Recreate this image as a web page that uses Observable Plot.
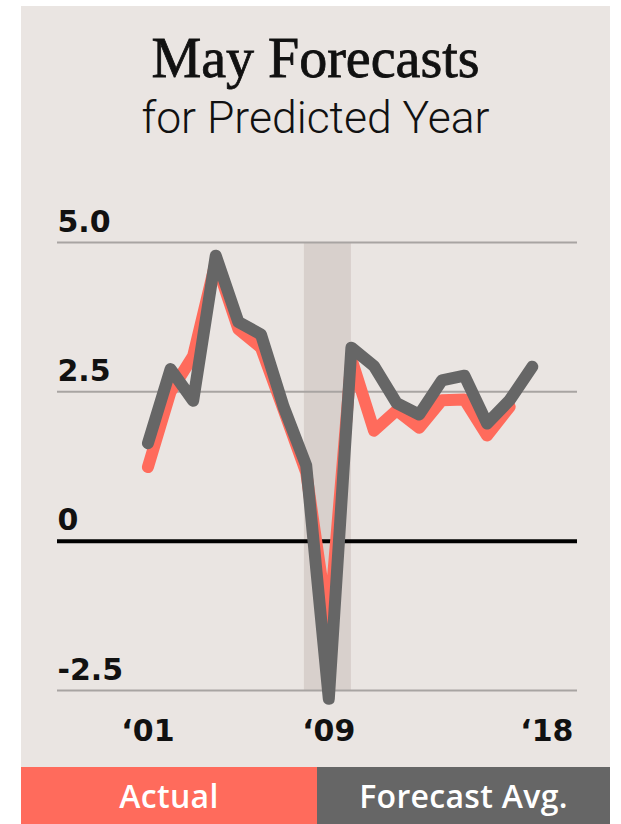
<!DOCTYPE html>
<html>
<head>
<meta charset="utf-8">
<script src="https://cdn.jsdelivr.net/npm/d3@7"></script>
<script src="https://cdn.jsdelivr.net/npm/@observablehq/plot@0.6"></script>
<style>
  html, body { margin: 0; padding: 0; background: #ffffff; }
  #page { position: relative; width: 621px; height: 824px; overflow: hidden; }
  #card { position: absolute; left: 21px; top: 6px; width: 589px; height: 818px; background: #EAE5E2; }
  #title { position: absolute; left: 21px; width: 589px; top: 30px; text-align: center;
    font-family: "Liberation Serif", serif; font-weight: 400; font-size: 56px; line-height: 56px; color: #111;
    -webkit-text-stroke: 0.8px #111; }
  #subtitle { position: absolute; left: 21px; width: 589px; top: 96px; text-align: center;
    font-family: Roboto, sans-serif; font-weight: 300; font-size: 44.5px; line-height: 44.5px; color: #111; }
  #chart { position: absolute; left: 0; top: 160px; }
  #legend { position: absolute; left: 21px; top: 767px; width: 589px; height: 57px; display: flex; }
  #legend div { display: flex; align-items: center; justify-content: center; color: #fff;
    font-family: "Open Sans", sans-serif; font-weight: 600; font-size: 32px; letter-spacing: 0.3px; }
</style>
</head>
<body>
<div id="page">
  <div id="card"></div>
  <div id="title">May Forecasts</div>
  <div id="subtitle">for Predicted Year</div>
  <div id="chart"></div>
  <div id="legend"></div>
</div>
<script>
// ---- data ----
const years = [2001, 2002, 2003, 2004, 2005, 2006, 2007, 2008, 2009, 2010, 2011, 2012, 2013, 2014, 2015, 2016, 2017, 2018];
const forecastAvg = [1.64, 2.88, 2.35, 4.78, 3.67, 3.46, 2.25, 1.27, -2.64, 3.24, 2.93, 2.31, 2.12, 2.69, 2.77, 1.97, 2.36, 2.92];
const actual = [1.24, 2.5, 3.1, 4.68, 3.55, 3.24, 2.2, 1.15, -1.45, 3.05, 1.85, 2.19, 1.9, 2.36, 2.37, 1.77, 2.25];
const yTicks = [5.0, 2.5, 0, -2.5];
const yTickLabels = ["5.0", "2.5", "0", "-2.5"];
const xTickYears = [2001, 2009, 2018];
const xTickLabels = ["\u201801", "\u201809", "\u201818"];
const recessionStart = [2007.92];
const recessionEnd = [2010];
const seriesNames = ["Actual", "Forecast Avg."];
const seriesColors = ["#FF6B5C", "#666666"];

// ---- tables built from arrays ----
const forecastData = years.map((y, i) => ({year: y, value: forecastAvg[i]}));
const actualData = actual.map((v, i) => ({year: years[i], value: v}));
const yTickData = yTicks.map((v, i) => ({value: v, label: yTickLabels[i]}));
const xTickData = xTickYears.map((y, i) => ({year: y, label: xTickLabels[i]}));
const recession = recessionStart.map((s, i) => ({start: s, end: recessionEnd[i]}));
const xMin = 1997, xMax = 2020;
const yMin = d3.min(yTicks), yMax = d3.max(yTicks);

const labelFont = "DejaVu Sans";

const chart = Plot.plot({
  width: 621,
  height: 607,
  marginLeft: 57,
  marginRight: 44,
  marginTop: 82,
  marginBottom: 77,
  x: {domain: [xMin, xMax], axis: null},
  y: {domain: [yMin, yMax], axis: null},
  style: {background: "transparent", overflow: "visible"},
  marks: [
    Plot.rect(recession, {x1: "start", x2: "end", y1: yMin, y2: yMax, fill: "#D8D0CC"}),
    Plot.ruleY(yTickData.filter(d => d.value !== 0), {y: "value", x1: xMin, x2: xMax, stroke: "#A8A4A2", strokeWidth: 2}),
    Plot.ruleY([0], {x1: xMin, x2: xMax, stroke: "#000", strokeWidth: 4}),
    Plot.text(yTickData, {x: xMin, y: "value", text: "label", textAnchor: "start", lineAnchor: "bottom", dy: -11,
      fontFamily: labelFont, fontWeight: "bold", fontSize: 30, fill: "#111"}),
    Plot.line(actualData, {x: "year", y: "value", stroke: seriesColors[0], strokeWidth: 12, strokeLinejoin: "round", strokeLinecap: "round"}),
    Plot.line(forecastData, {x: "year", y: "value", stroke: seriesColors[1], strokeWidth: 12, strokeLinejoin: "round", strokeLinecap: "round"}),
    Plot.text(xTickData.slice(0, 2), {x: "year", y: yMin, text: "label", textAnchor: "middle", lineAnchor: "bottom", dy: 50,
      fontFamily: labelFont, fontWeight: "bold", fontSize: 30, fill: "#111"}),
    Plot.text(xTickData.slice(2), {x: xMax, y: yMin, text: "label", textAnchor: "end", lineAnchor: "bottom", dy: 50, dx: -4,
      fontFamily: labelFont, fontWeight: "bold", fontSize: 30, fill: "#111"})
  ]
});
document.getElementById("chart").appendChild(chart);

const legend = document.getElementById("legend");
seriesNames.forEach((name, i) => {
  const d = document.createElement("div");
  d.textContent = name;
  d.style.background = seriesColors[i];
  d.style.width = i === 0 ? "296px" : "293px";
  legend.appendChild(d);
});
</script>
</body>
</html>
